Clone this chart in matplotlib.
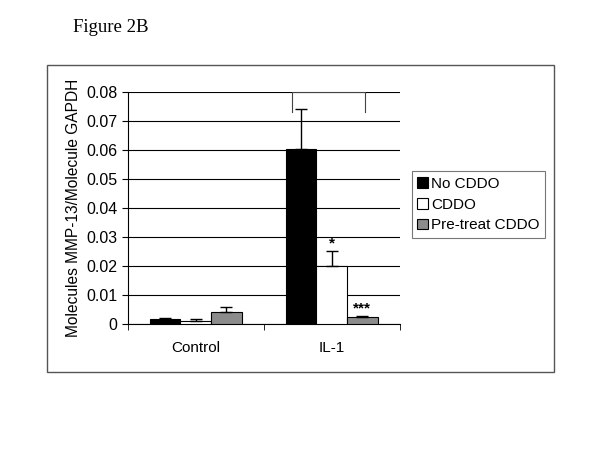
import numpy as np
import matplotlib.pyplot as plt
from matplotlib.patches import Rectangle

plt.rcParams['font.family'] = ['Liberation Sans', 'DejaVu Sans']

categories = ['Control', 'IL-1']
series = ['No CDDO', 'CDDO', 'Pre-treat CDDO']
colors = ['black', 'white', '#8c8c8c']
values = [[0.0018, 0.0605], [0.0012, 0.0200], [0.0040, 0.0025]]
errors = [[0.0003, 0.0135], [0.0006, 0.0050], [0.0020, 0.0003]]
stars = [['', ''], ['', '*'], ['', '***']]

fig = plt.figure(figsize=(6, 4.5), dpi=100)
fig.patches.append(Rectangle((0.078, 0.173), 0.846, 0.683, transform=fig.transFigure,
                             fill=False, edgecolor='#555555', linewidth=1))
fig.text(0.122, 0.94, 'Figure 2B', family='Liberation Serif', fontsize=13.5, va='center')

ax = fig.add_axes([0.213, 0.28, 0.453, 0.5156])
x = np.arange(len(categories))
w = 0.225
for i, name in enumerate(series):
    pos = x + (i - 1) * w
    ax.bar(pos, values[i], w, color=colors[i], edgecolor='black', linewidth=0.8,
           label=name, zorder=3,
           yerr=[np.zeros(len(categories)), errors[i]],
           error_kw=dict(ecolor='black', elinewidth=1, capsize=4, capthick=1))
    for j in range(len(categories)):
        if stars[i][j]:
            ax.text(pos[j], values[i][j] + errors[i][j] + 0.0003, stars[i][j],
                    ha='center', va='bottom', fontsize=11, fontweight='bold')

# bracket over IL-1 group
ax.plot([1 - w - 0.07, 1 - w - 0.07, 1 + w + 0.023, 1 + w + 0.023],
        [0.0731, 0.08, 0.08, 0.0731], color='#444444', linewidth=0.8, zorder=4,
        clip_on=False)

ax.set_xlim(-0.5, 1.5)
ax.set_ylim(0, 0.08)
ax.set_yticks(np.arange(0, 0.081, 0.01))
ax.set_yticklabels(['0'] + ['%.2f' % v for v in np.arange(0.01, 0.081, 0.01)], fontsize=11.5)
ax.yaxis.grid(True, color='black', linewidth=0.8, zorder=0)
ax.set_xticks(x)
ax.set_xticklabels(categories, fontsize=11)
ax.tick_params(axis='x', length=0, pad=12)
ax.set_xticks([-0.5, 0.5, 1.5], minor=True)
ax.tick_params(axis='x', which='minor', length=4, direction='out')
ax.tick_params(axis='y', length=4, direction='out')
ax.spines['top'].set_visible(False)
ax.spines['right'].set_visible(False)
ax.set_ylabel('Molecules MMP-13/Molecule GAPDH', fontsize=11.2, labelpad=4)

leg = ax.legend(loc='center left', bbox_to_anchor=(1.018, 0.515), fontsize=11,
                frameon=True, fancybox=False, edgecolor='#555555',
                handlelength=0.7, handleheight=0.7, handletextpad=0.2,
                borderpad=0.35, labelspacing=0.45)
leg.get_frame().set_linewidth(0.8)

fig.savefig('out.png', dpi=100)
